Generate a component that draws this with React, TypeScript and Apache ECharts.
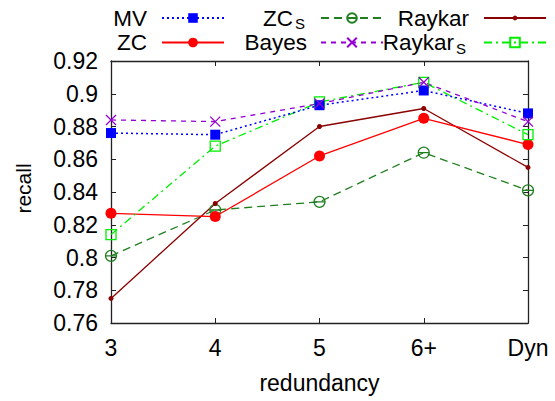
import React, { useEffect, useRef } from "react";
import * as echarts from "echarts";

const categories = ["3", "4", "5", "6+", "Dyn"];
const yTicks = { min: 0.76, max: 0.92, interval: 0.02 };

const mv = [0.876, 0.875, 0.893, 0.902, 0.888];
const zc = [0.827, 0.825, 0.862, 0.885, 0.869];
const zcS = [0.801, 0.829, 0.834, 0.864, 0.841];
const bayes = [0.884, 0.883, 0.894, 0.907, 0.883];
const raykar = [0.775, 0.833, 0.88, 0.891, 0.855];
const raykarS = [0.814, 0.868, 0.895, 0.907, 0.875];

const FONT = "Liberation Sans, Arial, Helvetica, sans-serif";

const circleBar = "path://M0,6A6,6 0 1,1 12,6A6,6 0 1,1 0,6ZM0,6L12,6";
const cross = "path://M0,0L10,10M10,0L0,10";
const openSquare = "path://M0,0L10,0L10,10L0,10Z";

export default function App() {
  const ref = useRef<HTMLDivElement>(null);
  useEffect(() => {
    if (!ref.current) return;
    const chart = echarts.init(ref.current, null, { renderer: "svg" });
    const legendLabel: Record<string, string> = {
      MV: "MV",
      ZC: "ZC",
      ZC_S: "ZC",
      Bayes: "Bayes",
      Raykar: "Raykar",
      Raykar_S: "Raykar",
    };
    const mkLegend = (name: string, right: number, top: number, itemHeight: number, padRight: number) => ({
      data: [name],
      right,
      top,
      align: "right",
      itemWidth: 62,
      itemHeight,
      padding: 0,
      formatter: (n: string) => legendLabel[n],
      textStyle: {
        color: "#000",
        fontSize: 22.5,
        fontFamily: FONT,
        lineHeight: 24,
        padding: [0, padRight, 0, 0],
      },
    });
    const subStyle = { text: "S", fontSize: 15, fontFamily: FONT, fill: "#000" };
    const axisLine = { show: true, lineStyle: { color: "#222", width: 1.3 } };
    const tick = { show: true, inside: true, length: 5, lineStyle: { color: "#222", width: 1 } };
    const option = {
      animation: false,
      backgroundColor: "#fff",
      textStyle: { fontFamily: FONT },
      grid: { left: 111, right: 27, top: 61, bottom: 78 },
      legend: [
        mkLegend("MV", 330, 6, 12, 10),
        mkLegend("ZC", 330, 30.5, 12, 10),
        mkLegend("ZC_S", 171, 6, 12, 23),
        mkLegend("Bayes", 171, 30.5, 12, 9),
        mkLegend("Raykar", 8, 6, 6, 10),
        mkLegend("Raykar_S", 8, 30.5, 12, 25),
      ],
      graphic: [
        { type: "text", left: 295, top: 15.5, style: subStyle, silent: true },
        { type: "text", left: 456, top: 40.5, style: subStyle, silent: true },
      ],
      xAxis: [
        {
          type: "category",
          data: categories,
          boundaryGap: false,
          position: "bottom",
          axisLine,
          axisTick: tick,
          splitLine: { show: false },
          axisLabel: { color: "#000", fontSize: 23, fontFamily: FONT, margin: 13 },
          name: "redundancy",
          nameLocation: "middle",
          nameGap: 48,
          nameTextStyle: { color: "#000", fontSize: 23, fontFamily: FONT },
        },
        {
          type: "category",
          data: categories,
          boundaryGap: false,
          position: "top",
          axisLine,
          axisTick: tick,
          axisLabel: { show: false },
          splitLine: { show: false },
        },
      ],
      yAxis: [
        {
          type: "value",
          min: yTicks.min,
          max: yTicks.max,
          interval: yTicks.interval,
          position: "left",
          axisLine,
          axisTick: tick,
          splitLine: { show: false },
          axisLabel: {
            color: "#000",
            fontSize: 23,
            fontFamily: FONT,
            margin: 13,
            formatter: (v: number) => String(+v.toFixed(2)),
          },
          name: "recall",
          nameLocation: "middle",
          nameGap: 77,
          nameTextStyle: { color: "#000", fontSize: 21, fontFamily: FONT, padding: [0, 0, 0, 7] },
        },
        {
          type: "value",
          min: yTicks.min,
          max: yTicks.max,
          interval: yTicks.interval,
          position: "right",
          axisLine,
          axisTick: tick,
          splitLine: { show: false },
          axisLabel: { show: false },
        },
      ],
      series: [
        {
          name: "ZC_S",
          type: "line",
          data: zcS,
          symbol: circleBar,
          symbolSize: 11,
          lineStyle: { color: "#1f7f1f", width: 1.3, type: [8, 5] },
          itemStyle: { color: "transparent", borderColor: "#1f7f1f", borderWidth: 1.3 },
        },
        {
          name: "Raykar",
          type: "line",
          data: raykar,
          symbol: "circle",
          symbolSize: 5,
          lineStyle: { color: "#8b0000", width: 1.3, type: "solid" },
          itemStyle: { color: "#8b0000" },
        },
        {
          name: "ZC",
          type: "line",
          data: zc,
          symbol: "circle",
          symbolSize: 11,
          lineStyle: { color: "#ff0000", width: 1.3, type: "solid" },
          itemStyle: { color: "#ff0000" },
        },
        {
          name: "Raykar_S",
          type: "line",
          data: raykarS,
          symbol: openSquare,
          symbolSize: 10,
          lineStyle: { color: "#00ee00", width: 1.3, type: [8, 4, 2, 4] },
          itemStyle: { color: "transparent", borderColor: "#00ee00", borderWidth: 1.3 },
        },
        {
          name: "MV",
          type: "line",
          data: mv,
          symbol: "rect",
          symbolSize: 10,
          lineStyle: { color: "#0000ff", width: 1.5, type: [2, 3] },
          itemStyle: { color: "#0000ff" },
        },
        {
          name: "Bayes",
          type: "line",
          data: bayes,
          symbol: cross,
          symbolSize: 10,
          lineStyle: { color: "#9400d3", width: 1.3, type: [5, 5] },
          itemStyle: { color: "transparent", borderColor: "#9400d3", borderWidth: 1.3 },
        },
      ],
    };
    chart.setOption(option as any);
    return () => chart.dispose();
  }, []);
  return (
    <div
      ref={ref}
      style={{ position: "fixed", left: 0, top: 0, width: 555, height: 401, background: "#fff" }}
    />
  );
}
